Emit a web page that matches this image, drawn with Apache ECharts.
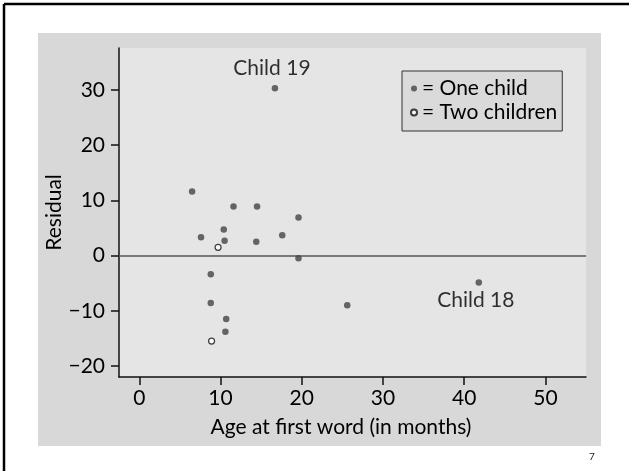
<!DOCTYPE html>
<html>
<head>
<meta charset="utf-8">
<script src="https://cdn.jsdelivr.net/npm/echarts@6/dist/echarts.min.js"></script>
<style>html,body{margin:0;padding:0;background:#fff;}#c{width:629px;height:471px;}</style>
</head>
<body>
<div id="c"></div>
<script>
// Data
var oneChild = [
  [6.5, 11.6], [11.6, 8.9], [14.5, 8.9], [19.6, 6.9], [10.4, 4.7],
  [7.6, 3.3], [17.6, 3.7], [10.5, 2.7], [14.4, 2.5], [19.6, -0.5],
  [8.8, -3.4], [8.8, -8.6], [10.7, -11.5], [10.6, -13.8], [25.6, -9.0],
  [41.8, -4.9], [16.7, 30.3]
];
var twoChildren = [[9.7, 1.5], [8.9, -15.5]];
var annotations = [
  { name: 'Child 19', x: 16.7, y: 30.3 },
  { name: 'Child 18', x: 41.8, y: -4.9 }
];
var xTicks = [0, 10, 20, 30, 40, 50];
var yTicks = [-20, -10, 0, 10, 20, 30];

var FONT = 'Lato';
var FS = 21;
var chart = echarts.init(document.getElementById('c'), null, { renderer: 'canvas' });

function labelFor(p) {
  for (var i = 0; i < annotations.length; i++) {
    if (annotations[i].x === p[0] && annotations[i].y === p[1]) return annotations[i].name;
  }
  return null;
}

var oneData = oneChild.map(function (p) {
  var nm = labelFor(p);
  if (!nm) return { value: p };
  var above = nm === 'Child 19';
  return {
    value: p,
    label: {
      show: true, formatter: nm, position: above ? 'top' : 'bottom',
      distance: above ? 6 : 4, offset: [-3, 0],
      fontFamily: FONT, fontSize: FS, color: '#000'
    }
  };
});

chart.setOption({
  backgroundColor: '#ffffff',
  animation: false,
  graphic: [
    { type: 'rect', z: -10, silent: true, shape: { x: 38, y: 33, width: 563, height: 413 }, style: { fill: '#d8d8d8' } },
    { type: 'line', z: 100, silent: true, shape: { x1: 4, y1: 4, x2: 629, y2: 4 }, style: { stroke: '#000', lineWidth: 2.5 } },
    { type: 'line', z: 100, silent: true, shape: { x1: 4, y1: 4, x2: 4, y2: 471 }, style: { stroke: '#000', lineWidth: 2.5 } },
    { type: 'text', silent: true, left: 589, top: 452, style: { text: '7', fontSize: 10, fontFamily: FONT, fill: '#222' } }
  ],
  grid: {
    left: 119, right: 43, top: 48, bottom: 94,
    show: true, backgroundColor: '#e5e5e5', borderWidth: 0
  },
  legend: {
    orient: 'vertical', left: 402, top: 71,
    padding: [7, 5, 8, 8], itemGap: 3,
    itemWidth: 6, itemHeight: 6,
    backgroundColor: '#dadada', borderColor: '#333', borderWidth: 1,
    formatter: '= {name}',
    textStyle: { fontFamily: FONT, fontSize: FS, color: '#000', lineHeight: 21 },
    data: ['One child', 'Two children']
  },
  xAxis: {
    type: 'value', min: -2.5, max: 55,
    name: 'Age at first word (in months)', nameLocation: 'middle', nameGap: 40,
    nameMoveOverlap: false,
    nameTextStyle: { fontFamily: FONT, fontSize: FS, color: '#000', padding: [0, 23, 0, 0] },
    axisLine: { show: true, onZero: false, lineStyle: { color: '#111', width: 1.5 } },
    axisTick: { show: true, length: 8, customValues: xTicks, lineStyle: { color: '#111', width: 1.5 } },
    axisLabel: { customValues: xTicks, margin: 11, fontFamily: FONT, fontSize: FS, color: '#000' },
    splitLine: { show: false }
  },
  yAxis: {
    type: 'value', min: -22, max: 37.6,
    name: 'Residual', nameLocation: 'middle', nameGap: 54,
    nameMoveOverlap: false,
    nameTextStyle: { fontFamily: FONT, fontSize: FS, color: '#000' },
    axisLine: { show: true, onZero: false, lineStyle: { color: '#111', width: 1.5 } },
    axisTick: { show: true, length: 8, customValues: yTicks, lineStyle: { color: '#111', width: 1.5 } },
    axisLabel: {
      customValues: yTicks, margin: 14, fontFamily: FONT, fontSize: FS, color: '#000',
      formatter: function (v) { return v < 0 ? '\u2212' + Math.abs(v) : String(v); }
    },
    splitLine: { show: false }
  },
  series: [
    {
      name: 'One child', type: 'scatter', symbol: 'circle', symbolSize: 6.5,
      itemStyle: { color: '#444' },
      data: oneData,
      markLine: {
        silent: true, symbol: ['none', 'none'], label: { show: false },
        lineStyle: { color: '#555', width: 1.6, type: 'solid' },
        data: [{ yAxis: 0 }]
      },
      z: 5
    },
    {
      name: 'Two children', type: 'scatter', symbol: 'circle', symbolSize: 6,
      itemStyle: { color: '#ffffff', borderColor: '#111', borderWidth: 1.2 },
      data: twoChildren,
      z: 6
    }
  ]
});
</script>
</body>
</html>
